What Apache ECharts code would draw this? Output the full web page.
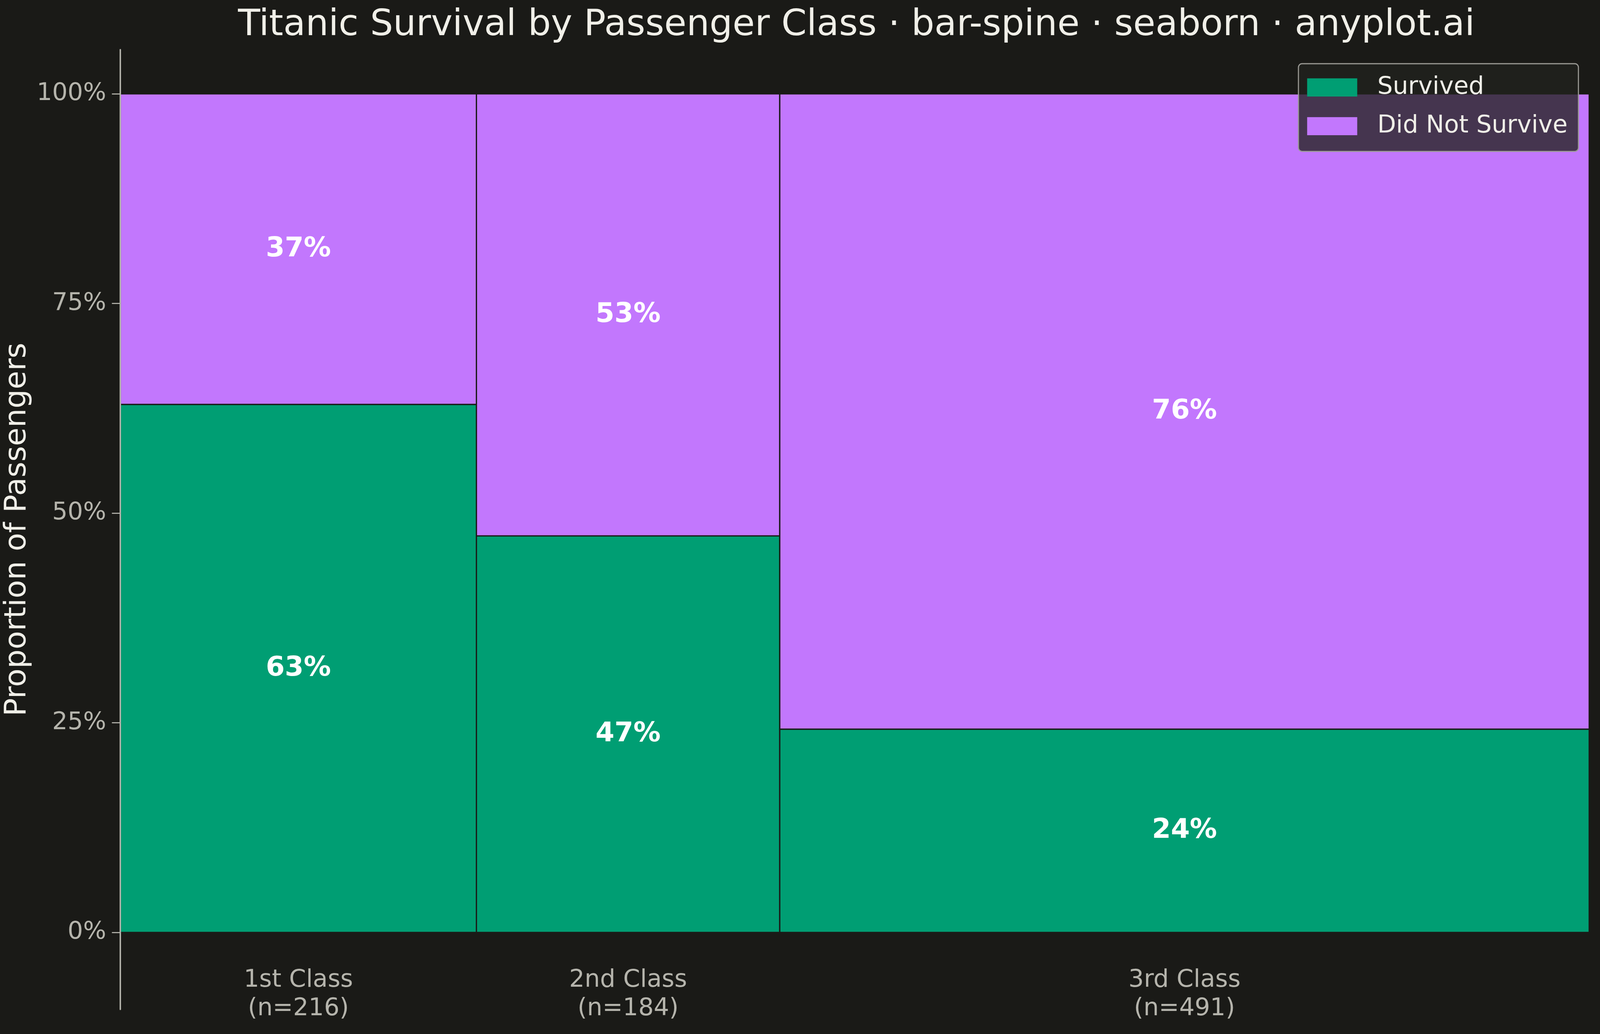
<!DOCTYPE html>
<html>
<head>
<meta charset="utf-8">
<script src="https://cdn.jsdelivr.net/npm/echarts@6/dist/echarts.min.js"></script>
<style>
  html, body { margin: 0; padding: 0; background: #1A1A17; overflow: hidden; }
  #chart { width: 100vw; height: 100vh; }
</style>
</head>
<body>
<div id="chart"></div>
<script>
// ---- data: Titanic passengers by class ----
var classNames = ['1st Class', '2nd Class', '3rd Class'];
var classCounts = [216, 184, 491];
var survivedCounts = [136, 87, 119];
var seriesNames = ['Survived', 'Did Not Survive'];
var yTicks = [0, 0.25, 0.5, 0.75, 1];

(function () {
  var bg = '#1A1A17';
  var ink = '#F0EFE8';
  var muted = '#B5B4AC';
  var green = '#009E73';
  var purple = '#C277FD';
  var font = '"DejaVu Sans", "Noto Sans", sans-serif';

  // layout was measured on a 4747x2646 canvas; scale to the real window
  var el = document.getElementById('chart');
  var W = el.clientWidth || 4747;
  var H = el.clientHeight || 2646;
  var sx = W / 4747, sy = H / 2646;
  var fs = Math.sqrt(sx * sy);

  var total = classCounts.reduce(function (a, b) { return a + b; }, 0);
  var starts = [];
  var acc = 0;
  classCounts.forEach(function (n) { starts.push(acc); acc += n; });
  var centers = classCounts.map(function (n, i) { return starts[i] + n / 2; });
  var survProp = classCounts.map(function (n, i) { return survivedCounts[i] / n; });

  // [x0, x1, y0, y1]
  var survivedData = classCounts.map(function (n, i) {
    return [starts[i], starts[i] + n, 0, survProp[i]];
  });
  var diedData = classCounts.map(function (n, i) {
    return [starts[i], starts[i] + n, survProp[i], 1];
  });

  function renderSeg(params, api) {
    var p0 = api.coord([api.value(0), api.value(2)]);
    var p1 = api.coord([api.value(1), api.value(3)]);
    var pct = Math.round((api.value(3) - api.value(2)) * 100) + '%';
    return {
      type: 'group',
      children: [
        {
          type: 'rect',
          shape: { x: p0[0], y: p1[1], width: p1[0] - p0[0], height: p0[1] - p1[1] },
          style: { fill: api.visual('color'), stroke: bg, lineWidth: 3.5 * fs }
        },
        {
          type: 'text',
          style: {
            text: pct,
            x: (p0[0] + p1[0]) / 2,
            y: (p0[1] + p1[1]) / 2,
            align: 'center',
            verticalAlign: 'middle',
            fill: '#FFFFFF',
            fontSize: 75 * fs,
            fontWeight: 'bold',
            fontFamily: font
          }
        }
      ]
    };
  }

  var chart = echarts.init(el, null, { renderer: 'canvas' });
  chart.setOption({
    animation: false,
    backgroundColor: bg,
    title: {
      text: 'Titanic Survival by Passenger Class · bar-spine · seaborn · anyplot.ai',
      left: 2535 * sx,
      top: 14 * sy,
      textAlign: 'center',
      textStyle: { color: ink, fontSize: 100 * fs, fontWeight: 'normal', fontFamily: font }
    },
    legend: {
      orient: 'vertical',
      right: 64 * sx,
      top: 163 * sy,
      align: 'left',
      padding: [32 * fs, 30 * fs, 36 * fs, 24 * fs],
      itemWidth: 138 * fs,
      itemHeight: 50 * fs,
      itemGap: 40 * fs,
      backgroundColor: 'rgba(33,34,30,0.78)',
      borderColor: '#9A9994',
      borderWidth: 3 * fs,
      borderRadius: 10 * fs,
      textStyle: { color: ink, fontSize: 67 * fs, fontFamily: font, padding: [0, 0, 0, 50 * fs] },
      data: [
        { name: seriesNames[0], icon: 'rect', itemStyle: { color: green } },
        { name: seriesNames[1], icon: 'rect', itemStyle: { color: purple } }
      ]
    },
    grid: { left: 357 * sx, right: 32 * sx, top: 127 * sy, bottom: 63 * sy, outerBoundsMode: 'none', containLabel: false },
    xAxis: {
      type: 'value',
      min: 0,
      max: total,
      axisLine: { show: false, onZero: false },
      axisTick: { show: false },
      splitLine: { show: false },
      axisLabel: {
        customValues: centers,
        color: muted,
        fontSize: 67 * fs,
        fontFamily: font,
        lineHeight: 78 * fs,
        // labels hang just below the 0% line, above the grid's lower edge
        margin: -110 * sy,
        formatter: function (v) {
          for (var i = 0; i < centers.length; i++) {
            if (Math.abs(centers[i] - v) < 1e-6) {
              return classNames[i] + '\n(n=' + classCounts[i] + ')';
            }
          }
          return '';
        }
      }
    },
    yAxis: {
      type: 'value',
      min: -0.0918,
      max: 1.0527,
      z: 10,
      name: 'Proportion of Passengers',
      nameLocation: 'middle',
      nameRotate: 90,
      nameGap: 225 * sx,
      nameTextStyle: { color: ink, fontSize: 83 * fs, fontFamily: font },
      axisLine: { show: true, lineStyle: { color: muted, width: 4 * fs } },
      axisTick: { show: true, length: 25 * sx, customValues: yTicks, lineStyle: { color: muted, width: 3 * fs } },
      splitLine: { show: false },
      axisLabel: {
        customValues: yTicks,
        color: muted,
        fontSize: 67 * fs,
        fontFamily: font,
        margin: 42 * sx,
        formatter: function (v) { return Math.round(v * 100) + '%'; }
      }
    },
    series: [
      {
        name: seriesNames[0],
        type: 'custom',
        renderItem: renderSeg,
        itemStyle: { color: green },
        encode: { x: [0, 1], y: [2, 3] },
        data: survivedData
      },
      {
        name: seriesNames[1],
        type: 'custom',
        renderItem: renderSeg,
        itemStyle: { color: purple },
        encode: { x: [0, 1], y: [2, 3] },
        data: diedData
      }
    ]
  });
})();
</script>
</body>
</html>
